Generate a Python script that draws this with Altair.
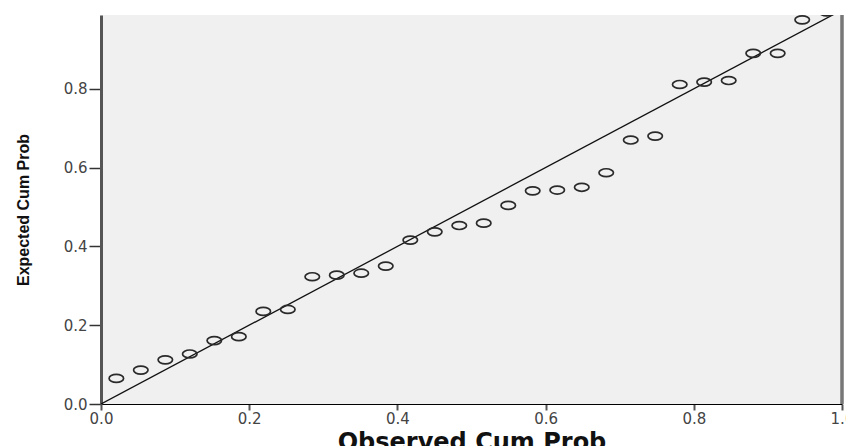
import altair as alt
import pandas as pd

observed = [0.0207, 0.0537, 0.0868, 0.1198, 0.1529, 0.1860, 0.2190, 0.2521, 0.2851, 0.3182,
            0.3512, 0.3843, 0.4174, 0.4504, 0.4835, 0.5165, 0.5496, 0.5826, 0.6157, 0.6488,
            0.6818, 0.7149, 0.7479, 0.7810, 0.8140, 0.8471, 0.8802, 0.9132, 0.9463, 0.9793]
expected = [0.065, 0.086, 0.112, 0.127, 0.161, 0.171, 0.235, 0.240, 0.323, 0.327,
            0.332, 0.350, 0.416, 0.437, 0.453, 0.459, 0.504, 0.541, 0.543, 0.550,
            0.587, 0.670, 0.680, 0.811, 0.817, 0.821, 0.890, 0.890, 0.975, 0.995]
ref_x = [0.0, 1.0]
ref_y = [0.0, 1.0]
y_ticks = [0.0, 0.2, 0.4, 0.6, 0.8]
x_ticks = [0.0, 0.2, 0.4, 0.6, 0.8, 1.0]

pts = pd.DataFrame({"obs": observed, "exp": expected})
ref = pd.DataFrame({"obs": ref_x, "exp": ref_y})

xscale = alt.Scale(domain=[0, 1], nice=False, zero=False)
yscale = alt.Scale(domain=[0, 0.9873], nice=False, zero=False)

xaxis = alt.Axis(values=x_ticks, format=".1f", title="Observed Cum Prob",
                 domainColor="#000000", domainWidth=1,
                 tickColor="#555555", tickWidth=2, tickSize=6,
                 labelFont="DejaVu Sans", labelFontSize=15, labelColor="#444444",
                 labelPadding=1, labelFlush=False, grid=False,
                 titleFont="DejaVu Sans", titleFontSize=24, titleFontWeight="bold",
                 titleColor="#111111", titlePadding=4)
yaxis = alt.Axis(values=y_ticks, format=".1f", title="Expected Cum Prob",
                 domainColor="#555555", domainWidth=3,
                 tickColor="#333333", tickWidth=1.5, tickSize=12,
                 labelFont="DejaVu Sans", labelFontSize=15, labelColor="#444444",
                 labelPadding=2, labelFlush=False, grid=False,
                 titleFont="Liberation Sans", titleFontSize=16, titleFontWeight="bold",
                 titleColor="#111111", titlePadding=32)

ellipse = "M-1,0A1,0.55 0 1,0 1,0A1,0.55 0 1,0 -1,0Z"

line = alt.Chart(ref).mark_line(color="#111111", strokeWidth=1.3, clip=True).encode(
    x=alt.X("obs:Q", scale=xscale, axis=xaxis),
    y=alt.Y("exp:Q", scale=yscale, axis=yaxis),
)

points = alt.Chart(pts).mark_point(
    shape=ellipse, size=210, filled=False, stroke="#2a2a2a", strokeWidth=1.7,
    opacity=1, clip=True
).encode(
    x=alt.X("obs:Q", scale=xscale, axis=xaxis),
    y=alt.Y("exp:Q", scale=yscale, axis=yaxis),
)

right_edge = alt.Chart(ref).mark_rule(color="#777777", strokeWidth=3).encode(
    x=alt.datum(x_ticks[-1], scale=xscale),
)

chart = alt.layer(line, points, right_edge).properties(
    width=741, height=389,
    autosize=alt.AutoSizeParams(type="none"),
    padding={"left": 93, "top": 7, "right": 4, "bottom": 42},
    background="#ffffff",
).configure_view(fill="#f0f0f0", stroke=None)

chart.save("out.html", embed_options={"renderer": "svg", "actions": False})
